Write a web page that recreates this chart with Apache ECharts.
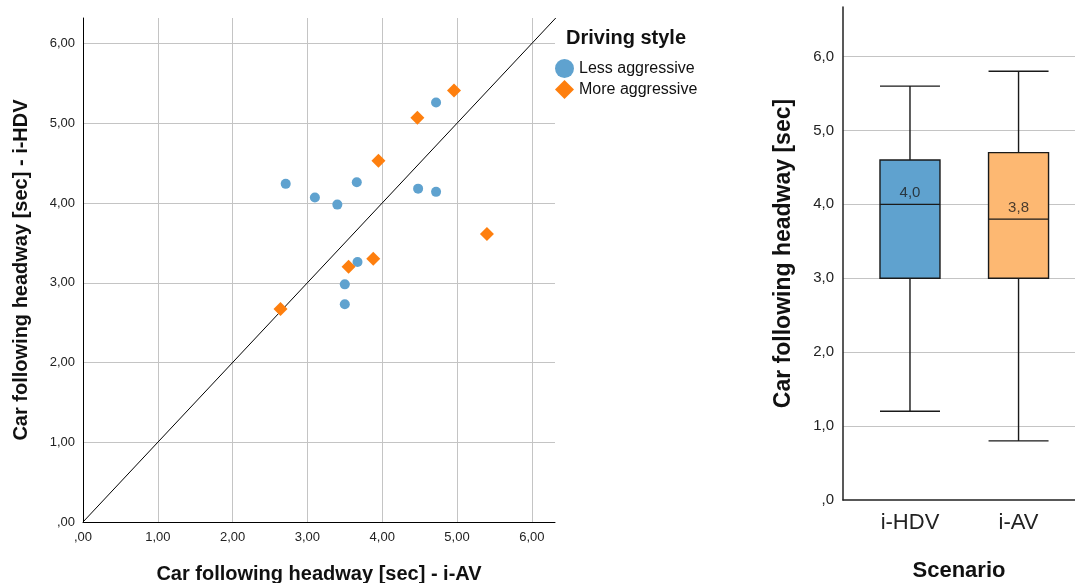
<!DOCTYPE html>
<html>
<head>
<meta charset="utf-8">
<style>
  html, body { margin: 0; padding: 0; background: #fff; }
  #chart { width: 1075px; height: 583px; }
</style>
<script src="https://cdn.jsdelivr.net/npm/echarts@6/dist/echarts.min.js"></script>
</head>
<body>
<div id="chart"></div>
<script>
// Headway per driver: i-AV (x) vs i-HDV (y), split by driving style
const lessX = [2.71, 3.10, 3.40, 3.66, 4.48, 4.72, 4.72, 3.67, 3.50, 3.50];
const lessY = [4.24, 4.07, 3.98, 4.26, 4.18, 4.14, 5.26, 3.26, 2.98, 2.73];
const moreX = [4.96, 4.47, 3.95, 5.40, 3.88, 3.55, 2.64];
const moreY = [5.41, 5.07, 4.53, 3.61, 3.30, 3.20, 2.67];

// Box plot summary per scenario
const scenarios = ['i-HDV', 'i-AV'];
const boxMin = [1.2, 0.8];
const boxQ1 = [3.0, 3.0];
const boxMedian = [4.0, 3.8];
const boxQ3 = [4.6, 4.7];
const boxMax = [5.6, 5.8];

const FONT = '"Liberation Sans", Arial, sans-serif';
const BLUE = '#5fa2cf';
const ORANGE = '#fe7f0e';
const LIGHT_ORANGE = '#fdb872';
const GRID_COLOR = '#c4c4c4';

// decimal comma, no leading zero (",00", "1,00")
function fmt(v, d) {
  const s = Number(v).toFixed(d).replace('.', ',');
  return s.startsWith('0,') ? s.slice(1) : s;
}

const pairs = (xs, ys) => xs.map((x, i) => [x, ys[i]]);
const boxData = scenarios.map((_, i) => [i + 1, boxMin[i], boxQ1[i], boxMedian[i], boxQ3[i], boxMax[i]]);
const boxColors = [BLUE, LIGHT_ORANGE];

const chart = echarts.init(document.getElementById('chart'), null, { renderer: 'canvas' });

chart.setOption({
  animation: false,
  backgroundColor: '#fff',
  textStyle: { fontFamily: FONT },
  title: {
    text: 'Driving style',
    left: 566, top: 28,
    padding: 0,
    textStyle: { fontFamily: FONT, fontSize: 20, fontWeight: 'bold', color: '#111' }
  },
  legend: {
    data: [
      { name: 'Less aggressive', icon: 'circle' },
      { name: 'More aggressive', icon: 'diamond' }
    ],
    orient: 'vertical',
    left: 555, top: 59,
    padding: 0,
    itemWidth: 19, itemHeight: 19,
    itemGap: 2,
    selectedMode: false,
    textStyle: {
      fontFamily: FONT, fontSize: 16, color: '#111',
      width: 120, overflow: 'truncate', ellipsis: ''
    }
  },
  grid: [
    { left: 83, top: 18, width: 472, height: 504, outerBoundsMode: 'none', containLabel: false },
    { left: 843, top: 7, width: 232, height: 493, outerBoundsMode: 'none', containLabel: false }
  ],
  xAxis: [
    {
      gridIndex: 0, type: 'value', min: 0, max: 6.31, interval: 1,
      name: 'Car following headway [sec] - i-AV',
      nameLocation: 'middle', nameGap: 42,
      nameTextStyle: { fontFamily: FONT, fontSize: 20, fontWeight: 'bold', color: '#111' },
      axisLine: { show: true, onZero: false, lineStyle: { color: '#000', width: 1 } },
      axisTick: { show: false },
      axisLabel: { margin: 9, fontSize: 13, color: '#222', showMaxLabel: false, formatter: v => fmt(v, 2) },
      splitLine: { show: true, showMaxLine: false, lineStyle: { color: GRID_COLOR, width: 1 } }
    },
    {
      gridIndex: 1, type: 'value', min: 0.383, max: 2.52,
      axisLine: { show: true, onZero: false, lineStyle: { color: '#222', width: 1.5 } },
      axisTick: { show: false },
      axisLabel: {
        customValues: [1, 2], margin: 12, fontSize: 22, color: '#222',
        formatter: v => scenarios[Math.round(v) - 1] || ''
      },
      splitLine: { show: false },
      name: 'Scenario',
      nameLocation: 'middle', nameGap: 60,
      nameTextStyle: { fontFamily: FONT, fontSize: 22, fontWeight: 'bold', color: '#111' }
    }
  ],
  yAxis: [
    {
      gridIndex: 0, type: 'value', min: 0, max: 6.32, interval: 1,
      name: 'Car following headway [sec] - i-HDV',
      nameLocation: 'middle', nameGap: 52, nameRotate: 90,
      nameTextStyle: { fontFamily: FONT, fontSize: 20, fontWeight: 'bold', color: '#111' },
      axisLine: { show: true, onZero: false, lineStyle: { color: '#000', width: 1 } },
      axisTick: { show: false },
      axisLabel: { margin: 8, fontSize: 13, color: '#222', showMaxLabel: false, formatter: v => fmt(v, 2) },
      splitLine: { show: true, showMaxLine: false, lineStyle: { color: GRID_COLOR, width: 1 } }
    },
    {
      gridIndex: 1, type: 'value', min: 0, max: 6.67, interval: 1,
      name: 'Car following headway [sec]',
      nameLocation: 'middle', nameGap: 48, nameRotate: 90,
      nameTextStyle: { fontFamily: FONT, fontSize: 23, fontWeight: 'bold', color: '#111' },
      axisLine: { show: true, onZero: false, lineStyle: { color: '#222', width: 1.5 } },
      axisTick: { show: false },
      axisLabel: { margin: 9, fontSize: 15, color: '#222', showMaxLabel: false, formatter: v => fmt(v, 1) },
      splitLine: { show: true, showMaxLine: false, showMinLine: false, lineStyle: { color: GRID_COLOR, width: 1.2 } }
    }
  ],
  series: [
    {
      name: 'identity',
      type: 'line',
      xAxisIndex: 0, yAxisIndex: 0,
      data: [[0, 0], [6.32, 6.32]],
      symbol: 'none', silent: true,
      lineStyle: { color: '#000', width: 1 },
      z: 1
    },
    {
      name: 'Less aggressive',
      type: 'scatter',
      xAxisIndex: 0, yAxisIndex: 0,
      data: pairs(lessX, lessY),
      symbol: 'circle', symbolSize: 10,
      itemStyle: { color: BLUE, opacity: 1 },
      z: 3
    },
    {
      name: 'More aggressive',
      type: 'scatter',
      xAxisIndex: 0, yAxisIndex: 0,
      data: pairs(moreX, moreY),
      symbol: 'diamond', symbolSize: 14,
      itemStyle: { color: ORANGE, opacity: 1 },
      z: 3
    },
    {
      name: 'Scenario box',
      type: 'boxplot',
      xAxisIndex: 1, yAxisIndex: 1,
      boxWidth: [60, 60],
      encode: { x: 0, y: [1, 2, 3, 4, 5] },
      data: boxData.map((d, i) => ({
        value: d,
        itemStyle: { color: boxColors[i], borderColor: '#1a1a1a', borderWidth: 1.4 }
      }))
    },
    {
      name: 'Median label',
      type: 'scatter',
      xAxisIndex: 1, yAxisIndex: 1,
      data: boxMedian.map((m, i) => [i + 1, m]),
      symbolSize: 0,
      silent: true,
      label: {
        show: true, position: 'top', distance: 4,
        fontFamily: FONT, fontSize: 15, color: '#1a1a1a',
        formatter: p => fmt(p.value[1], 1)
      },
      z: 5
    }
  ]
});
</script>
</body>
</html>
